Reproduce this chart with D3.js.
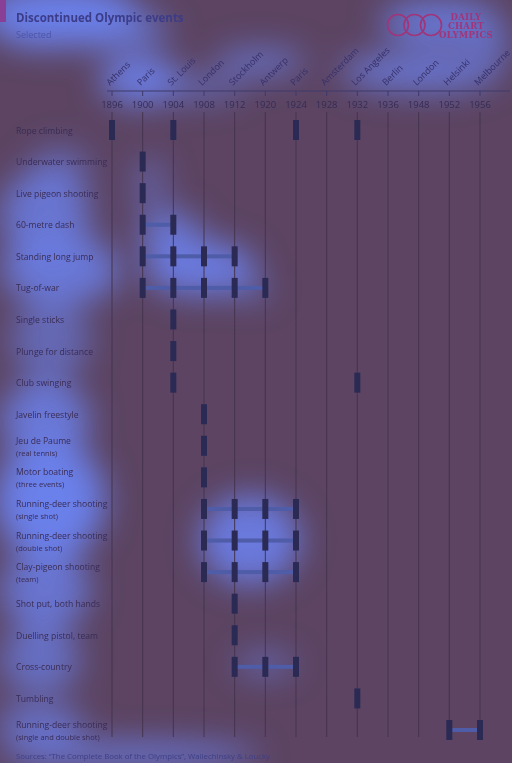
<!DOCTYPE html>
<html>
<head>
<meta charset="utf-8">
<script src="https://cdn.jsdelivr.net/npm/d3@7"></script>
<style>
  body { margin: 0; background: #5c4462; }
  svg { display: block; font-family: "Open Sans", sans-serif; }
</style>
</head>
<body>
<div id="chart"></div>
<script>
// games and host cities
const years = [1896, 1900, 1904, 1908, 1912, 1920, 1924, 1928, 1932, 1936, 1948, 1952, 1956];
const cities = ["Athens", "Paris", "St. Louis", "London", "Stockholm", "Antwerp", "Paris",
  "Amsterdam", "Los Angeles", "Berlin", "London", "Helsinki", "Melbourne"];

// events, sub labels and the games they were held at
const events = ["Rope climbing", "Underwater swimming", "Live pigeon shooting", "60-metre dash",
  "Standing long jump", "Tug-of-war", "Single sticks", "Plunge for distance", "Club swinging",
  "Javelin freestyle", "Jeu de Paume", "Motor boating", "Running-deer shooting",
  "Running-deer shooting", "Clay-pigeon shooting", "Shot put, both hands", "Duelling pistol, team",
  "Cross-country", "Tumbling", "Running-deer shooting"];
const subLabels = ["", "", "", "", "", "", "", "", "", "", "(real tennis)", "(three events)",
  "(single shot)", "(double shot)", "(team)", "", "", "", "", "(single and double shot)"];
const held = [
  [1896, 1904, 1924, 1932],
  [1900],
  [1900],
  [1900, 1904],
  [1900, 1904, 1908, 1912],
  [1900, 1904, 1908, 1912, 1920],
  [1904],
  [1904],
  [1904, 1932],
  [1908],
  [1908],
  [1908],
  [1908, 1912, 1920, 1924],
  [1908, 1912, 1920, 1924],
  [1908, 1912, 1920, 1924],
  [1912],
  [1912],
  [1912, 1920, 1924],
  [1932],
  [1952, 1956]
];

const width = 512, height = 763;
const textCol = "#3a2c55";

const svg = d3.select("#chart").append("svg")
  .attr("width", width)
  .attr("height", height);

svg.append("rect").attr("width", width).attr("height", height).attr("fill", "#5c4462");

// soft highlight layer (blurred blobs behind the chart)
const defs = svg.append("defs");
defs.append("filter").attr("id", "blur")
  .attr("x", "-60%").attr("y", "-60%").attr("width", "220%").attr("height", "220%")
  .append("feGaussianBlur").attr("stdDeviation", 16);
const blobs = [
  // header
  [60, 14, 80, 30, 1], [45, 34, 45, 14, 1], [110, 30, 60, 20, 0.7], [440, 22, 60, 22, 0.85],
  [140, 80, 40, 24, 0.95], [260, 62, 45, 14, 0.7], [420, 72, 80, 20, 0.8], [490, 45, 22, 18, 0.6],
  [195, 88, 50, 12, 0.6],
  // left column
  [45, 215, 45, 45, 0.8], [60, 270, 60, 35, 0.85], [50, 340, 40, 40, 0.6], [45, 420, 45, 40, 0.85],
  [50, 500, 55, 60, 1], [45, 590, 45, 40, 0.8], [40, 660, 40, 35, 0.7], [40, 725, 45, 20, 0.75],
  [130, 755, 130, 12, 0.9], [60, 170, 30, 25, 0.5],
  // marks
  [150, 185, 15, 30, 0.5], [170, 235, 30, 25, 0.8], [200, 268, 55, 28, 0.9], [250, 290, 20, 10, 0.6],
  [250, 540, 50, 45, 0.9], [265, 664, 30, 10, 0.7]
];
svg.append("g").attr("filter", "url(#blur)")
  .selectAll("ellipse").data(blobs).join("ellipse")
  .attr("cx", d => d[0]).attr("cy", d => d[1]).attr("rx", d => d[2]).attr("ry", d => d[3])
  .attr("fill", "#6b80ea").attr("opacity", d => d[4]);

// scales
const x = d3.scalePoint().domain(years).range([112, 480]);
const y = d3.scalePoint().domain(d3.range(events.length)).range([130, 730]);

// header
svg.append("rect").attr("x", 0).attr("y", 0).attr("width", 6).attr("height", 22).attr("fill", "#8a3f96");
svg.append("text").attr("x", 16).attr("y", 22)
  .attr("font-size", 11.5).attr("font-weight", "bold").attr("fill", "#3c3c88")
  .text("Discontinued Olympic events");
svg.append("text").attr("x", 16).attr("y", 38)
  .attr("font-size", 9).attr("fill", "#4c55a8")
  .text("Selected");

// logo
const logo = svg.append("g");
[398, 414.5, 431].forEach(cx => {
  logo.append("circle").attr("cx", cx).attr("cy", 25).attr("r", 10.5)
    .attr("fill", "none").attr("stroke", "#a0357a").attr("stroke-width", 1.6);
});
["DAILY", "CHART", "OLYMPICS"].forEach((t, i) => {
  logo.append("text").attr("x", 466).attr("y", 20 + i * 9)
    .attr("text-anchor", "middle").attr("font-family", "DejaVu Serif, serif")
    .attr("font-size", 8.5).attr("font-weight", "bold").attr("letter-spacing", 0.3)
    .attr("fill", "#a0357a").text(t);
});

// axis
const axis = svg.append("g");
axis.append("line").attr("x1", 107).attr("x2", 510).attr("y1", 91).attr("y2", 91)
  .attr("stroke", "#3e3a6a").attr("stroke-width", 1.2);
axis.selectAll(".tick").data(years).join("line")
  .attr("x1", d => x(d)).attr("x2", d => x(d)).attr("y1", 91).attr("y2", 96)
  .attr("stroke", "#3e3a6a");
axis.selectAll(".year").data(years).join("text")
  .attr("x", d => x(d)).attr("y", 108).attr("text-anchor", "middle")
  .attr("font-size", 9.5).attr("fill", "#352c55").text(d => d);
axis.selectAll(".city").data(years).join("text")
  .attr("transform", d => `translate(${x(d) - 2},86) rotate(-45)`)
  .attr("font-size", 9).attr("fill", "#36306a")
  .text((d, i) => cities[i]);

// gridlines
svg.append("g").selectAll("line").data(years).join("line")
  .attr("x1", d => x(d)).attr("x2", d => x(d)).attr("y1", 112).attr("y2", 737)
  .attr("stroke", "#45344f").attr("stroke-width", 1);

// row labels
const rows = svg.append("g");
events.forEach((ev, i) => {
  const sub = subLabels[i];
  rows.append("text").attr("x", 16).attr("y", y(i) + (sub ? -2 : 3.5))
    .attr("font-size", 8.6).attr("fill", textCol).text(ev);
  if (sub) {
    rows.append("text").attr("x", 16).attr("y", y(i) + 10)
      .attr("font-size", 7.5).attr("fill", textCol).text(sub);
  }
});

// links between consecutive games
const links = [];
held.forEach((h, i) => {
  for (let k = 1; k < h.length; k++) {
    if (years.indexOf(h[k]) - years.indexOf(h[k - 1]) === 1) links.push({ row: i, a: h[k - 1], b: h[k] });
  }
});
svg.append("g").selectAll("rect").data(links).join("rect")
  .attr("x", d => x(d.a)).attr("width", d => x(d.b) - x(d.a))
  .attr("y", d => y(d.row) - 2).attr("height", 4)
  .attr("fill", "#4f5ca8");

// marks
const marks = held.flatMap((h, i) => h.map(yr => ({ row: i, yr })));
svg.append("g").selectAll("rect").data(marks).join("rect")
  .attr("x", d => x(d.yr) - 3).attr("y", d => y(d.row) - 10)
  .attr("width", 6).attr("height", 20)
  .attr("fill", "#2b2a55");

// source
svg.append("text").attr("x", 16).attr("y", 759)
  .attr("font-size", 7.8).attr("fill", "#3e3f88")
  .text("Sources: \u201cThe Complete Book of the Olympics\u201d, Wallechinsky & Loucky");
</script>
</body>
</html>
